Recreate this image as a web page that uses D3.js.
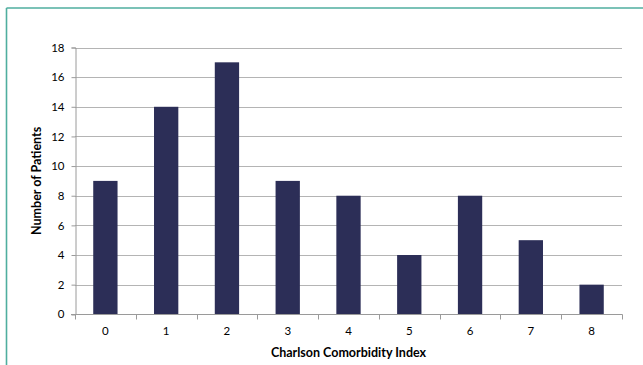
<!DOCTYPE html>
<html>
<head>
<meta charset="utf-8">
<script src="https://cdn.jsdelivr.net/npm/d3@7"></script>
<style>
  html, body { margin: 0; padding: 0; background: #fff; }
  svg { display: block; }
  text { font-family: Lato, "Open Sans", "Liberation Sans", sans-serif; fill: #000; }
</style>
</head>
<body>
<svg id="chart" width="643" height="365"></svg>
<script>
// Patients by Charlson Comorbidity Index score
const categories = ["0", "1", "2", "3", "4", "5", "6", "7", "8"];
const patients = [9, 14, 17, 9, 8, 4, 8, 5, 2];
const yTicks = [0, 2, 4, 6, 8, 10, 12, 14, 16, 18];
const xTitle = "Charlson Comorbidity Index";
const yTitle = "Number of Patients";

const svg = d3.select("#chart");
const W = 643, H = 365;
const margin = { left: 75, right: 21, top: 47.5, bottom: 50.7 };

// Frame around the chart area (top and left edges)
svg.append("line").attr("x1", 6.5).attr("x2", W).attr("y1", 8).attr("y2", 8)
  .attr("stroke", "#4fae9f").attr("stroke-width", 1.6);
svg.append("line").attr("x1", 6.5).attr("x2", 6.5).attr("y1", 8).attr("y2", H)
  .attr("stroke", "#4fae9f").attr("stroke-width", 1.6);

const x = d3.scaleBand().domain(categories)
  .range([margin.left, W - margin.right]).paddingInner(0.6).paddingOuter(0.3);
const y = d3.scaleLinear().domain([0, 18]).range([H - margin.bottom, margin.top]);

// Horizontal gridlines
svg.append("g").selectAll("line").data(yTicks.filter(d => d > 0)).join("line")
  .attr("x1", margin.left).attr("x2", W - margin.right)
  .attr("y1", d => Math.round(y(d)) + 0.5).attr("y2", d => Math.round(y(d)) + 0.5)
  .attr("stroke", "#b4b4b4").attr("stroke-width", 1);

// Bars
svg.append("g").selectAll("rect").data(patients).join("rect")
  .attr("x", (d, i) => x(categories[i]))
  .attr("width", x.bandwidth())
  .attr("y", d => y(d))
  .attr("height", d => y(0) - y(d))
  .attr("fill", "#2c2e57");

// Y axis
const yAxis = svg.append("g")
  .attr("transform", `translate(${margin.left + 0.5},0)`)
  .call(d3.axisLeft(y).tickValues(yTicks).tickSize(4).tickPadding(7).tickFormat(d3.format("d")));
yAxis.select(".domain").attr("stroke", "#9a9a9a");
yAxis.selectAll(".tick line").attr("stroke", "#9a9a9a");
yAxis.selectAll(".tick text").attr("font-size", 11.5).attr("fill", "#000");

// X axis: ticks sit on category boundaries, labels centred in each band
const bounds = d3.range(categories.length + 1).map(i => margin.left + i * ((W - margin.right - margin.left) / categories.length));
const xg = svg.append("g");
const y0 = Math.round(y(0)) + 0.5;
xg.append("line").attr("x1", margin.left - 4).attr("x2", W - margin.right + 0.5)
  .attr("y1", y0).attr("y2", y0).attr("stroke", "#9a9a9a");
xg.selectAll("line.tk").data(bounds).join("line").attr("class", "tk")
  .attr("x1", d => Math.round(d) + 0.5).attr("x2", d => Math.round(d) + 0.5)
  .attr("y1", y0).attr("y2", y0 + 5).attr("stroke", "#9a9a9a");
xg.selectAll("text").data(categories).join("text")
  .attr("x", d => x(d) + x.bandwidth() / 2)
  .attr("y", 335)
  .attr("text-anchor", "middle")
  .attr("font-size", 11.5)
  .text(d => d);

// Axis titles
svg.append("text").attr("x", (margin.left + W - margin.right) / 2).attr("y", 357)
  .attr("text-anchor", "middle").attr("font-size", 12.5).attr("font-weight", "bold")
  .text(xTitle);
svg.append("text")
  .attr("transform", `translate(41,${(y(0) + y(18)) / 2}) rotate(-90)`)
  .attr("text-anchor", "middle").attr("font-size", 12.5).attr("font-weight", "bold")
  .text(yTitle);
</script>
</body>
</html>
